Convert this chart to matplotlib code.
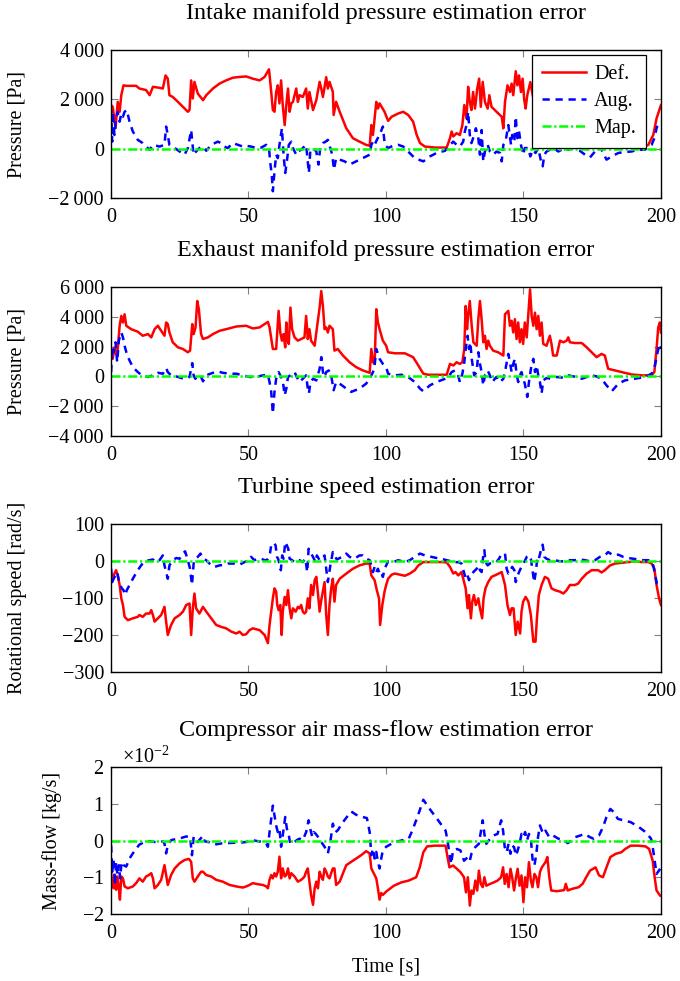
import numpy as np
import matplotlib
matplotlib.use('Agg')
import matplotlib.pyplot as plt
from matplotlib.ticker import FuncFormatter, ScalarFormatter, MultipleLocator

plt.rcParams['font.family'] = ['Liberation Serif', 'DejaVu Serif']
plt.rcParams['mathtext.fontset'] = 'custom'
plt.rcParams['mathtext.rm'] = 'Liberation Serif'
plt.rcParams['font.size'] = 14.5

# ---- Intake manifold pressure error [Pa] ----
im_def_t = [0.1, 0.7, 1.7, 2.5, 3.2, 3.8, 4.6, 5.6, 9.2, 10.4, 12.8, 14.1, 15.3, 17.7, 18.9, 19.9, 20.7,
            21.3, 22.5, 24.4, 26.2, 28.0, 28.6, 29.2, 29.8, 30.4, 31.6, 33.5, 34.7, 37.1, 39.5, 41.9,
            44.4, 46.8, 49.2, 51.6, 54.1, 55.9, 57.5, 58.3, 58.9, 59.5, 60.1, 60.7, 61.3, 61.9, 62.5,
            63.2, 63.8, 64.4, 65.0, 65.6, 66.2, 67.4, 68.0, 68.6, 69.8, 71.0, 71.6, 72.2, 73.5, 74.7,
            75.9, 76.5, 77.1, 78.3, 78.9, 79.5, 80.7, 81.0, 81.9, 83.2, 85.6, 88.0, 90.4, 92.8, 94.1,
            94.7, 95.3, 95.9, 96.5, 97.1, 97.7, 99.5, 100.8, 102.1, 104.5, 106.3, 108.1, 109.9, 111.2,
            112.4, 114.2, 117.8, 122.1, 123.3, 123.9, 124.5, 125.7, 126.9, 127.8, 128.5, 129.3, 129.9,
            130.5, 131.1, 131.7, 132.4, 133.2, 133.9, 134.5, 135.2, 136.0, 137.0, 137.6, 138.4, 140.2,
            142.1, 142.7, 143.3, 144.2, 145.1, 145.7, 146.3, 147.2, 147.8, 148.4, 149.1, 149.7, 150.3,
            150.8, 151.4, 152.5, 153.5, 154.5, 155.5, 156.5, 157.5, 158.5, 160.0, 165.0, 170.0, 175.0,
            178.0, 180.0, 185.0, 190.5, 194.2, 195.4, 197.2, 198.4, 199.6, 200.0]
im_def_v = [1770, 1700, 830, 1900, 1500, 2170, 2570, 2550, 2550, 2440, 2380, 2170, 2510, 2470, 2440, 2970,
            2840, 2170, 2100, 1900, 1700, 1500, 1570, 2770, 2040, 2710, 2240, 1970, 2170, 2440, 2640,
            2770, 2880, 2910, 2930, 2840, 2770, 2910, 3220, 2310, 1570, 1500, 2300, 2570, 1840, 2770,
            1770, 960, 1770, 2440, 1500, 1840, 1900, 2440, 1900, 2170, 2100, 2440, 1630, 2300, 1570,
            1970, 2710, 2440, 2100, 2900, 2440, 2710, 2310, 1370, 1900, 1500, 830, 430, 290, 160, 120,
            960, 560, 1230, 1900, 1630, 1840, 1500, 1130, 1300, 1430, 1500, 1370, 1100, 560, 230, 90,
            50, 50, 430, 700, 500, 630, 560, 960, 1770, 1230, 2510, 1900, 1570, 2300, 1630, 2440, 2840,
            1700, 2710, 1900, 1630, 2170, 1700, 1500, 1300, 830, 1900, 2570, 2300, 2640, 2170, 3140,
            2570, 2970, 2300, 2840, 1970, 1630, 2170, 2700, 2100, 2600, 1900, 2300, 1500, 1200, 1150,
            1200, 1100, 900, 1000, 500, 300, 50, 90, 160, 560, 1230, 1630, 1770]

im_aug_t = [0.1, 0.5, 0.7, 1.3, 1.9, 2.5, 3.2, 3.8, 4.4, 5.0, 5.8, 6.8, 8.0, 9.8, 11.6, 14.1, 15.3, 17.7,
            19.5, 20.1, 20.7, 21.3, 22.5, 25.0, 26.8, 28.0, 29.2, 29.6, 30.1, 31.0, 32.2, 33.5, 34.7,
            36.5, 38.9, 40.1, 41.3, 42.5, 44.4, 46.2, 48.0, 49.2, 51.0, 52.8, 54.7, 56.5, 57.5, 57.9,
            58.5, 58.9, 59.5, 60.1, 60.7, 61.3, 62.2, 62.8, 63.4, 64.0, 64.7, 65.6, 66.2, 67.4, 68.0,
            69.2, 69.8, 71.0, 71.6, 72.0, 72.5, 73.5, 74.7, 75.5, 76.1, 77.1, 78.1, 78.9, 79.8, 80.5,
            81.1, 81.9, 83.2, 85.0, 86.8, 89.2, 91.6, 94.1, 94.7, 95.3, 95.9, 96.7, 97.7, 98.9, 99.6,
            100.8, 102.7, 104.5, 106.3, 108.1, 110.5, 113.6, 116.0, 118.4, 121.5, 123.3, 124.5, 125.7,
            126.9, 128.1, 128.7, 129.3, 129.9, 130.5, 131.1, 132.1, 132.7, 133.6, 134.2, 134.8, 135.4,
            136.0, 137.0, 137.8, 139.0, 140.2, 141.5, 142.1, 142.7, 143.5, 144.5, 145.5, 145.9, 146.7,
            147.2, 147.8, 148.4, 149.1, 149.9, 150.5, 151.8, 152.5, 153.5, 154.4, 155.4, 156.4, 157.0,
            157.6, 158.4, 159.6, 160.8, 162.7, 164.5, 166.3, 168.2, 170.5, 172.4, 174.2, 176.0, 177.8,
            179.0, 180.2, 182.1, 184.5, 186.9, 189.3, 191.6, 194.2, 195.4, 196.6, 197.6, 198.4, 199.0,
            200.0]
im_aug_v = [1570, 290, 1500, 560, 1230, 1500, 1100, 1430, 1300, 1500, 1570, 1100, 700, 360, 230, -40, 160,
            90, 160, 900, 560, 160, 90, -110, -240, 30, 760, 290, -240, -110, 30, 90, -80, 160, 290,
            230, 90, 30, 230, 160, 90, 120, 90, 30, 50, 160, 30, -510, -1050, -1720, -910, -240, -380,
            160, 830, -240, -980, -510, 160, 290, 30, -240, -110, -40, 30, 160, -510, -980, -110, 30,
            -110, -640, 30, 230, 290, 360, 30, -240, -840, -380, -440, -510, -640, -510, -380, -240,
            160, 290, 160, 360, 560, 900, 160, 30, 130, 160, 90, -110, -380, -510, -310, -170, -80,
            160, 290, 160, 90, 290, 700, 960, 1500, 560, 230, 560, 830, 430, -240, 760, -510, -110,
            160, -110, -240, -110, -170, -510, 160, 290, 960, 160, 560, 290, 1300, 430, 700, 160, -240,
            30, 30, -310, -40, -170, 30, -510, -710, -240, -110, -40, 30, -110, 0, -40, 30, -80, -240,
            -350, -110, 90, -170, -440, -310, -170, -130, -110, -40, -40, 90, 160, 430, 830, 1030, 960]

# ---- Exhaust manifold pressure error [Pa] ----
em_def_t = [0.1, 0.7, 1.3, 1.9, 2.5, 3.2, 3.8, 4.4, 5.0, 5.6, 7.4, 9.8, 11.6, 13.5, 14.7, 15.9, 17.1,
            18.3, 19.5, 20.1, 20.7, 21.3, 22.5, 24.4, 26.2, 28.0, 28.8, 29.6, 30.1, 30.8, 31.4, 32.0,
            32.8, 33.5, 35.3, 37.1, 39.5, 41.9, 45.6, 49.2, 51.6, 54.1, 55.9, 57.1, 57.7, 58.9, 60.1,
            61.0, 61.6, 62.2, 62.8, 63.4, 63.8, 64.1, 64.7, 65.3, 65.9, 66.8, 68.0, 69.2, 70.4, 71.0,
            71.6, 72.2, 72.8, 74.1, 74.7, 75.9, 76.5, 77.1, 77.7, 78.3, 78.9, 79.5, 80.7, 81.3, 82.5,
            84.4, 86.8, 89.2, 91.6, 94.1, 94.7, 95.3, 95.9, 96.5, 97.1, 97.7, 98.9, 100.1, 100.8,
            103.3, 106.9, 109.9, 111.8, 113.6, 115.4, 122.1, 123.3, 124.5, 125.7, 126.9, 127.8, 128.5,
            129.0, 129.5, 129.9, 130.5, 131.2, 131.8, 133.0, 133.6, 134.2, 134.8, 135.4, 136.0, 136.6,
            137.2, 137.8, 139.0, 140.8, 142.7, 143.3, 144.5, 145.1, 145.7, 146.3, 146.9, 147.5, 148.1,
            148.7, 149.3, 149.9, 150.5, 151.2, 151.8, 152.4, 153.0, 153.6, 154.2, 154.8, 155.4, 156.0,
            156.6, 157.2, 158.4, 159.6, 160.2, 160.8, 162.1, 163.3, 164.5, 165.7, 166.3, 166.9, 168.7,
            171.2, 173.0, 174.8, 176.6, 178.4, 179.6, 180.8, 183.3, 185.7, 189.3, 193.0, 196.6, 197.6,
            198.4, 199.0, 199.6, 200.0]
em_def_v = [1840, 1180, 1950, 1510, 1840, 3400, 4060, 3620, 4170, 3400, 3170, 3000, 2730, 2840, 2620, 3170,
            3400, 3060, 2730, 3620, 3510, 2950, 2290, 1950, 1840, 1620, 1730, 3510, 2840, 3290, 5060,
            4510, 2840, 2510, 2620, 2840, 3060, 3170, 3350, 3400, 3220, 3290, 3510, 3660, 3290, 1840,
            1840, 4400, 2950, 2400, 2840, 1950, 3620, 2510, 2180, 4620, 3170, 2620, 2400, 2510, 2620,
            4060, 2510, 3170, 2400, 2060, 2950, 4620, 5730, 4730, 3170, 3290, 2950, 3400, 3170, 1730,
            1840, 1400, 950, 620, 400, 240, 1840, 950, 840, 4510, 3620, 3170, 2400, 2060, 1620, 1550,
            1550, 1290, 730, 180, 110, 110, 840, 730, 950, 840, 950, 1840, 4730, 3170, 4060, 5060, 3400,
            2290, 2060, 3840, 5060, 3840, 2290, 2730, 1840, 2400, 2060, 1730, 1620, 1400, 4170, 4400,
            3400, 3730, 2950, 3840, 2510, 3620, 2290, 3170, 2180, 3620, 2620, 4280, 5840, 4060, 3400,
            4280, 3170, 4060, 2730, 3620, 2180, 2060, 2730, 2180, 1400, 1400, 2400, 2290, 2400, 2620,
            2290, 2240, 2240, 1950, 1620, 1290, 1510, 1400, 510, 400, 290, 130, 70, 70, 290, 1840,
            3290, 3620, 2950]

em_aug_t = [0.1, 0.5, 1.0, 1.7, 2.3, 2.9, 3.8, 4.4, 5.0, 5.8, 6.8, 8.0, 9.8, 11.6, 13.5, 15.3, 17.1,
            18.9, 20.1, 20.7, 21.9, 23.8, 25.6, 27.4, 28.6, 29.6, 30.1, 30.7, 31.6, 32.8, 33.5, 34.7,
            37.1, 38.9, 40.7, 43.2, 45.6, 48.0, 50.4, 52.8, 55.3, 57.1, 57.7, 58.3, 58.9, 59.5, 60.1,
            61.0, 61.6, 62.5, 63.2, 63.8, 64.4, 65.6, 66.8, 67.6, 68.6, 69.8, 71.0, 71.6, 72.0, 72.6,
            73.5, 74.7, 75.9, 76.5, 77.1, 77.7, 78.3, 79.2, 80.1, 81.0, 81.9, 83.2, 85.6, 87.4, 90.4,
            92.8, 94.1, 94.7, 95.3, 95.9, 96.5, 97.1, 97.7, 98.9, 100.1, 100.8, 103.3, 105.7, 108.1,
            110.5, 112.4, 113.6, 116.0, 118.4, 121.5, 122.7, 123.9, 125.1, 126.1, 126.9, 127.8, 128.5,
            129.0, 129.7, 130.2, 130.7, 131.2, 132.1, 133.0, 133.6, 134.2, 134.8, 135.4, 136.0, 137.0,
            137.8, 138.7, 139.6, 140.2, 141.5, 142.7, 143.5, 144.5, 145.1, 145.7, 146.3, 146.9, 147.5,
            148.1, 148.7, 149.3, 149.9, 150.5, 151.4, 152.0, 153.0, 153.6, 154.2, 154.8, 155.4, 156.0,
            156.6, 157.2, 158.4, 160.2, 162.1, 164.5, 166.3, 168.1, 169.9, 171.2, 173.0, 174.8, 176.6,
            178.4, 180.2, 182.1, 184.5, 186.9, 190.5, 194.2, 196.6, 197.8, 198.8, 199.4, 200.0]
em_aug_v = [290, 1950, 1620, 2290, 950, 2400, 2950, 2620, 2060, 1510, 1070, 620, 290, 20, -40, 70, 240,
            180, 560, 290, 70, 0, -110, -160, -40, 890, 70, -160, 70, -40, -330, 70, 240, 330, 240, 180,
            180, 70, -40, -40, 70, 110, -380, -1040, -2490, -1040, -160, 290, 70, -270, -1270, -820,
            -40, 110, 290, -40, -380, -160, 70, -820, -1150, -380, -160, -270, 510, 1290, 290, -40,
            290, 400, 70, -930, -380, -490, -820, -1040, -820, -490, -160, 70, 290, 730, 1840, 1510,
            1180, 840, 620, 180, 70, 110, -40, -380, -820, -1000, -600, -380, -160, -40, 290, 400, 180,
            -380, 180, 950, 1840, 2730, 1840, 2290, 1180, 70, 290, 1620, 840, 290, -600, 70, 400, 70,
            -380, -160, -40, -380, -160, 510, 1510, 950, 290, 840, 1180, 180, -380, 70, 290, -160, -490,
            -1380, -380, 840, 1180, 290, 730, 70, -380, -1150, -270, -110, -160, -40, -90, 70, 0, -40,
            -160, -40, 70, 0, -160, -600, -1000, -490, -270, -160, -40, 180, 730, 1620, 2180, 1840]

# ---- Turbine speed error [rad/s] ----
ts_def_t = [0.1, 0.7, 1.3, 1.9, 2.5, 3.2, 3.8, 4.4, 5.0, 6.2, 8.0, 9.8, 10.4, 11.6, 12.8, 14.1, 14.7,
            15.3, 15.9, 17.1, 18.3, 19.5, 20.1, 20.7, 21.9, 23.2, 25.0, 26.2, 27.4, 28.6, 29.2, 29.8,
            30.4, 31.0, 32.2, 33.5, 34.7, 36.5, 38.3, 40.1, 41.9, 43.8, 45.6, 46.8, 48.0, 49.2, 50.4,
            51.6, 54.1, 55.9, 57.1, 57.7, 58.3, 58.9, 59.5, 60.1, 60.5, 61.0, 61.6, 62.1, 62.5, 63.2,
            63.8, 64.4, 65.0, 65.6, 66.2, 67.2, 68.0, 68.6, 69.2, 69.8, 70.4, 71.0, 71.6, 72.2, 72.8,
            73.5, 74.1, 74.7, 75.3, 75.9, 76.5, 77.7, 78.3, 78.9, 79.5, 80.1, 80.7, 81.3, 81.9, 83.2,
            85.6, 88.0, 90.4, 92.8, 94.1, 94.7, 95.9, 96.7, 97.5, 97.9, 98.7, 99.5, 100.1, 100.8, 102.1,
            103.3, 105.1, 106.9, 108.7, 110.5, 111.8, 113.6, 116.6, 120.2, 122.1, 123.3, 124.5, 125.3,
            126.3, 127.5, 128.4, 129.0, 129.7, 130.2, 130.9, 131.4, 132.0, 132.7, 133.6, 134.2, 135.0,
            135.5, 136.2, 137.2, 138.4, 140.2, 142.1, 143.3, 144.2, 145.1, 145.7, 146.4, 147.2, 147.9,
            148.8, 149.3, 149.9, 150.8, 151.8, 152.7, 153.6, 154.4, 154.9, 155.6, 156.6, 157.8, 159.0,
            160.2, 161.5, 163.3, 164.5, 165.7, 166.9, 168.7, 169.9, 171.2, 173.0, 174.8, 177.2, 178.4,
            179.6, 181.5, 183.3, 185.7, 188.1, 190.5, 193.0, 195.4, 196.6, 197.6, 198.4, 199.3, 200.0]
ts_def_v = [-39, -52, -34, -25, -39, -65, -101, -119, -151, -160, -155, -151, -146, -151, -142, -142, -133,
            -146, -164, -155, -146, -124, -164, -200, -173, -155, -146, -137, -119, -115, -200, -128,
            -88, -128, -142, -124, -137, -155, -173, -178, -182, -191, -196, -191, -200, -198, -187,
            -182, -187, -200, -222, -173, -137, -101, -74, -83, -119, -133, -119, -200, -137, -97,
            -119, -79, -128, -155, -128, -137, -124, -128, -119, -137, -142, -137, -101, -128, -65, -92,
            -52, -43, -88, -137, -106, -57, -146, -200, -119, -74, -48, -110, -65, -48, -34, -21, -12,
            -7, -7, -39, -52, -79, -101, -173, -119, -83, -65, -48, -37, -34, -37, -40, -34, -25, -12,
            -3, -3, -3, -4, -16, -34, -30, -39, -30, -57, -74, -128, -92, -155, -110, -92, -119, -101,
            -128, -155, -101, -74, -57, -43, -37, -30, -65, -119, -146, -128, -128, -200, -164, -196,
            -137, -110, -97, -110, -146, -218, -218, -155, -92, -65, -43, -48, -74, -79, -83, -88, -79,
            -65, -65, -61, -48, -34, -25, -25, -31, -25, -12, -7, -5, -3, -1, -3, -3, -7, -21, -65,
            -101, -119]

ts_aug_t = [0.1, 0.5, 1.0, 1.7, 2.3, 2.9, 3.4, 4.0, 4.6, 5.2, 5.8, 6.8, 8.0, 9.8, 11.0, 12.2, 14.1, 15.3,
            16.5, 17.7, 18.9, 19.5, 20.1, 20.7, 21.3, 22.5, 23.8, 25.0, 26.2, 27.0, 28.0, 28.8, 29.5,
            30.1, 30.8, 31.6, 32.6, 33.5, 34.7, 36.5, 37.7, 39.5, 41.3, 42.5, 45.0, 46.8, 48.6, 50.4,
            51.0, 52.2, 53.5, 54.7, 55.9, 56.7, 57.7, 58.3, 59.3, 59.9, 60.4, 60.8, 61.3, 61.8, 62.3,
            62.8, 63.4, 64.0, 64.5, 65.0, 65.9, 66.8, 67.6, 68.6, 69.8, 70.7, 71.4, 71.9, 72.5, 73.5,
            74.4, 74.9, 75.9, 76.8, 77.7, 78.3, 78.9, 79.8, 80.7, 81.5, 82.2, 83.2, 84.4, 85.6, 86.8,
            88.6, 90.4, 91.6, 92.8, 94.1, 94.7, 95.3, 95.9, 96.5, 97.1, 97.7, 98.3, 98.9, 99.6, 100.8,
            102.7, 104.5, 106.9, 108.7, 110.5, 112.4, 114.2, 116.6, 118.4, 120.2, 122.1, 123.9, 125.1,
            126.3, 127.5, 128.5, 129.1, 129.7, 130.2, 130.9, 131.8, 133.0, 133.6, 134.2, 134.8, 135.4,
            135.8, 136.2, 137.0, 137.8, 139.0, 140.2, 141.1, 141.8, 142.7, 143.3, 143.9, 144.5, 145.1,
            145.9, 146.7, 147.2, 147.9, 148.7, 149.3, 150.3, 151.2, 152.1, 152.7, 153.2, 153.9, 154.5,
            155.1, 155.6, 156.2, 157.0, 157.6, 158.4, 159.6, 161.5, 163.3, 165.1, 166.9, 168.7, 170.5,
            172.4, 174.2, 176.0, 177.8, 179.6, 180.8, 182.7, 184.5, 186.3, 188.1, 189.9, 191.8, 193.6,
            195.4, 196.6, 197.2, 197.8, 198.5, 199.3, 200.0]
ts_aug_v = [-21, -57, -48, -39, -30, -52, -65, -74, -79, -92, -79, -65, -48, -25, -12, -1, 2, 4, -3, 2, 15,
            -12, -30, -48, -12, 2, 8, 6, 20, 26, 2, -21, -65, -7, 6, 11, 20, 6, 2, -12, -16, -12, -10,
            -7, -7, -10, -3, 2, 11, 2, 6, 6, 2, 2, 13, 42, 49, 42, 11, 6, -7, -25, 15, 6, 51, 42, 33, 6,
            2, -3, 2, 2, -3, 6, -30, 33, 24, 11, -3, 15, 2, 6, 15, -21, -57, -12, 24, 11, 4, 8, 11, 20,
            11, 6, 15, 15, 6, 2, -12, -30, -16, -30, -21, -34, -30, -43, -20, -1, -3, 2, -3, 2, 11, 20,
            15, 11, 8, 6, 2, -1, -4, -3, -7, -34, -48, -39, -52, -39, -30, -21, -12, -25, -30, 15, 29,
            -3, -12, -7, -3, -3, 6, 15, 15, 20, -21, -34, -30, -16, -25, -57, -39, -25, -16, -3, 11, 15,
            6, -21, -57, -30, 11, 6, 24, 44, 11, 6, 2, 2, -1, -1, 2, 2, 4, 2, -1, 2, 11, 15, 24, 15, 17,
            11, 8, 6, 4, 2, 2, -1, -12, -34, -61, -65, -61]

# ---- Compressor air mass-flow error [kg/s], read in units of 1e-2 ----
mf_def_t = [0.1, 0.5, 1.0, 1.5, 1.9, 2.4, 2.9, 3.3, 3.8, 4.4, 5.0, 6.2, 8.0, 9.2, 10.4, 11.6, 12.8, 13.8,
            14.7, 15.3, 15.9, 17.1, 18.3, 19.5, 20.1, 20.7, 21.9, 23.2, 25.0, 26.8, 28.4, 29.2, 29.8,
            30.4, 31.6, 32.8, 33.5, 34.7, 36.5, 38.3, 40.7, 43.2, 45.6, 48.0, 49.2, 50.4, 51.6, 53.5,
            55.3, 56.5, 57.1, 57.7, 58.3, 58.9, 59.5, 60.1, 60.7, 61.3, 61.9, 62.5, 63.2, 63.8, 64.4,
            65.0, 65.6, 66.8, 68.0, 69.2, 69.8, 70.4, 71.0, 71.6, 72.2, 72.8, 73.5, 74.1, 74.7, 75.3,
            75.9, 76.5, 77.1, 77.7, 78.3, 78.9, 79.5, 80.1, 80.7, 81.3, 81.9, 83.2, 84.4, 85.6, 87.4,
            89.2, 91.0, 92.8, 94.1, 94.7, 95.3, 95.9, 96.5, 97.1, 97.7, 98.3, 98.9, 100.1, 102.9, 105.6,
            108.3, 111.0, 112.3, 113.6, 115.0, 117.7, 121.7, 122.4, 123.1, 124.4, 125.8, 127.1, 128.4,
            129.1, 129.8, 130.5, 131.1, 131.8, 132.5, 133.2, 133.8, 134.5, 135.2, 135.8, 136.5, 137.9,
            139.2, 140.6, 141.9, 142.6, 143.2, 143.9, 144.6, 145.3, 145.9, 146.6, 147.3, 147.9, 148.6,
            149.3, 150.0, 150.6, 151.3, 152.0, 152.7, 153.3, 154.0, 154.7, 155.3, 156.0, 156.7, 158.0,
            158.7, 159.4, 160.1, 162.1, 164.8, 165.4, 166.1, 167.5, 170.1, 171.5, 172.8, 174.2, 176.2,
            177.5, 178.9, 180.2, 181.6, 183.6, 185.6, 187.0, 189.0, 191.7, 194.4, 195.7, 197.0, 197.7,
            198.4, 199.7]
mf_def_v = [-0.85, -1.21, -1.30, -0.94, -1.34, -0.98, -1.30, -1.61, -0.98, -1.03, -1.25, -1.30, -1.25,
            -1.16, -1.03, -1.12, -0.98, -0.94, -0.89, -1.03, -1.30, -1.21, -1.07, -0.67, -0.94, -1.21,
            -0.94, -0.76, -0.62, -0.53, -0.50, -0.58, -1.03, -1.12, -0.98, -0.85, -0.85, -0.94, -0.98,
            -1.07, -1.12, -1.21, -1.25, -1.28, -1.25, -1.21, -1.16, -1.19, -1.21, -1.25, -1.30, -1.07,
            -0.94, -1.03, -0.89, -0.98, -0.85, -0.44, -1.03, -0.76, -0.98, -0.94, -0.76, -1.03, -0.89,
            -0.98, -1.12, -1.07, -1.03, -0.98, -0.85, -0.76, -1.12, -1.48, -1.75, -1.30, -1.12, -1.30,
            -0.85, -0.98, -1.07, -0.76, -0.85, -0.98, -1.03, -0.89, -0.76, -0.76, -1.21, -1.12, -0.89,
            -0.67, -0.58, -0.49, -0.40, -0.29, -0.35, -0.76, -0.85, -0.94, -1.03, -1.30, -1.61, -1.43,
            -1.48, -1.39, -1.23, -1.14, -1.09, -1.00, -0.73, -0.32, -0.16, -0.14, -0.14, -0.45, -0.73,
            -0.68, -0.77, -0.86, -1.00, -1.41, -1.00, -1.77, -1.36, -1.45, -1.09, -1.36, -0.82, -1.18,
            -1.27, -1.00, -1.23, -1.18, -1.14, -1.09, -1.00, -0.73, -1.18, -0.91, -1.27, -0.77, -1.00,
            -1.36, -1.00, -0.77, -1.23, -0.95, -1.68, -1.00, -1.27, -0.59, -1.09, -1.27, -0.91, -1.00,
            -1.27, -0.86, -0.73, -0.59, -0.45, -1.00, -1.36, -1.38, -1.35, -1.18, -1.36, -1.32, -1.27,
            -1.18, -1.00, -0.82, -0.73, -0.95, -1.00, -0.73, -0.45, -0.36, -0.32, -0.23, -0.14, -0.14,
            -0.16, -0.23, -0.55, -1.00, -1.36, -1.50]

mf_aug_t = [0.1, 0.5, 1.0, 1.5, 1.9, 2.4, 2.9, 3.4, 3.9, 4.6, 5.6, 6.8, 8.0, 9.2, 10.4, 12.2, 14.1, 15.9,
            17.7, 18.9, 19.5, 20.1, 20.7, 21.9, 23.8, 25.6, 27.4, 28.8, 29.5, 30.1, 30.8, 31.6, 32.5,
            33.5, 34.1, 35.9, 37.7, 40.1, 42.5, 45.0, 46.8, 49.2, 51.6, 53.5, 55.3, 56.5, 57.1, 57.7,
            58.3, 58.9, 59.5, 60.1, 60.7, 61.3, 61.9, 62.5, 63.4, 64.0, 64.6, 65.2, 66.2, 66.8, 67.6,
            68.6, 69.8, 71.0, 71.9, 72.5, 73.2, 73.7, 74.4, 75.3, 76.5, 77.7, 78.9, 79.8, 80.7, 81.7,
            82.5, 84.4, 86.2, 87.4, 89.2, 91.6, 93.1, 94.1, 94.7, 95.3, 95.9, 96.5, 97.1, 97.7, 98.3,
            98.9, 100.1, 102.9, 105.6, 108.3, 109.6, 111.0, 112.3, 113.6, 116.3, 119.0, 121.7, 122.4,
            123.1, 123.7, 124.4, 125.8, 127.1, 128.4, 129.8, 130.5, 131.1, 132.5, 133.8, 135.2, 135.8,
            136.5, 137.9, 139.2, 140.6, 141.9, 142.6, 143.2, 143.9, 144.6, 145.3, 145.9, 146.6, 147.3,
            147.9, 148.6, 149.3, 150.0, 150.6, 151.3, 152.0, 152.7, 153.3, 154.0, 154.7, 155.3, 156.0,
            156.7, 157.4, 158.0, 158.7, 159.4, 160.7, 162.7, 164.8, 166.1, 167.5, 168.8, 170.8, 172.2,
            174.2, 175.5, 177.5, 178.9, 180.2, 181.6, 182.9, 184.3, 186.3, 189.0, 191.7, 194.4, 196.4,
            197.0, 197.7, 198.4, 199.7]
mf_aug_v = [-0.13, -0.85, -0.53, -1.21, -0.58, -0.94, -0.67, -1.03, -0.58, -0.67, -0.71, -0.49, -0.35,
            -0.22, -0.11, -0.04, -0.02, -0.04, -0.05, -0.02, -0.08, -0.35, -0.13, 0.01, 0.04, 0.07, 0.11,
            0.10, -0.40, 0.10, 0.05, -0.04, 0.04, 0.13, -0.02, -0.05, -0.11, -0.08, -0.07, -0.06, -0.06,
            -0.04, 0.01, -0.02, -0.04, -0.08, -0.17, 0.23, 0.59, 0.95, 0.68, 0.41, 0.23, 0.32, -0.17,
            0.14, 0.64, 0.32, 0.19, -0.08, -0.08, -0.04, 0.01, 0.05, 0.01, 0.23, 0.55, 0.32, 0.10, 0.23,
            0.19, 0.10, -0.04, -0.17, -0.35, -0.04, 0.46, 0.23, 0.28, 0.50, 0.68, 0.79, 0.70, 0.64, 0.61,
            0.23, -0.40, -0.22, -0.49, -0.31, -0.58, -0.76, -0.49, -0.26, -0.17, -0.05, 0.00, 0.05, 0.27,
            0.55, 0.82, 1.11, 0.82, 0.55, 0.27, 0.00, -0.36, -0.64, -0.27, -0.23, -0.27, -0.55, -0.45,
            -0.55, -0.36, -0.18, -0.09, 0.55, 0.18, -0.09, 0.05, 0.14, 0.18, 0.55, 0.27, -0.18, -0.32,
            -0.09, -0.36, -0.14, -0.18, -0.41, -0.27, -0.09, 0.18, 0.09, 0.23, 0.00, 0.18, 0.05, -0.50,
            -0.68, -0.36, 0.09, 0.41, 0.27, 0.18, 0.27, 0.18, 0.09, 0.14, 0.05, 0.00, -0.07, 0.00, 0.09,
            0.14, 0.18, 0.09, 0.05, 0.14, 0.36, 0.64, 0.86, 0.77, 0.59, 0.55, 0.50, 0.38, 0.23, 0.05,
            -0.18, -0.55, -0.91, -0.77]

# the mapped model sits on zero the whole run
map_t = [0, 200]
map_v = [0, 0]

titles = ['Intake manifold pressure estimation error',
          'Exhaust manifold pressure estimation error',
          'Turbine speed estimation error',
          'Compressor air mass-flow estimation error']
ylabels = ['Pressure [Pa]', 'Pressure [Pa]', 'Rotational speed [rad/s]', 'Mass-flow [kg/s]']
yticks = [[-2000, 0, 2000, 4000],
          [-4000, -2000, 0, 2000, 4000, 6000],
          [-300, -200, -100, 0, 100],
          [-2e-2, -1e-2, 0, 1e-2, 2e-2]]

series = [(im_def_t, im_def_v, im_aug_t, im_aug_v, 1),
          (em_def_t, em_def_v, em_aug_t, em_aug_v, 1),
          (ts_def_t, ts_def_v, ts_aug_t, ts_aug_v, 1),
          (mf_def_t, mf_def_v, mf_aug_t, mf_aug_v, 1e-2)]

# axes boxes in figure fractions (left, bottom, width, height)
boxes = [(0.163, 0.798, 0.809, 0.151),
         (0.163, 0.5556, 0.809, 0.1518),
         (0.163, 0.315, 0.809, 0.1509),
         (0.163, 0.0683, 0.809, 0.1498)]
ylab_x = [-0.153, -0.153, -0.153, -0.088]


def thousands(x, pos):
    s = '{:,.0f}'.format(abs(x)).replace(',', '\u2009')
    return ('\u2212' + s) if x < 0 else s


fig = plt.figure(figsize=(6.8, 9.81), dpi=100)

for i in range(4):
    dt, dv, at, av, scale = series[i]
    ax = fig.add_axes(boxes[i])
    ax.plot(dt, np.array(dv) * scale, color='#ff0000', lw=1.8, label='Def.')
    ax.plot(at, np.array(av) * scale, color='#0000ff', lw=1.8, linestyle=(0, (2.9, 2.3)), label='Aug.')
    ax.plot(map_t, map_v, color='#00ff00', lw=1.8, linestyle=(0, (3.6, 1.1, 0.9, 1.1)), label='Map.')

    ax.set_xlim(0, 200)
    ax.set_ylim(yticks[i][0], yticks[i][-1])
    ax.set_yticks(yticks[i])
    ax.xaxis.set_major_locator(MultipleLocator(50))
    ax.set_title(titles[i], pad=22)
    ax.set_ylabel(ylabels[i])
    ax.yaxis.set_label_coords(ylab_x[i], 0.5)
    ax.tick_params(direction='in', top=True, right=True, length=5, width=0.8,
                   color='0.5', labelsize=14.5, pad=5)
    ax.tick_params(axis='x', pad=7)
    for sp in ax.spines.values():
        sp.set_linewidth(1.0)

    if i < 2:
        ax.yaxis.set_major_formatter(FuncFormatter(thousands))
    if i == 3:
        fmt = ScalarFormatter(useMathText=True)
        fmt.set_powerlimits((0, 0))
        ax.yaxis.set_major_formatter(fmt)
        ax.yaxis.get_offset_text().set_fontsize(14.5)
        ax.yaxis.get_offset_text().set_x(0.02)
        ax.set_xlabel('Time [s]', labelpad=11)
    if i == 0:
        leg = ax.legend(loc='upper right', bbox_to_anchor=(0.973, 0.966), borderaxespad=0,
                        fancybox=False, framealpha=1, edgecolor='black', handlelength=2.2,
                        handletextpad=0.4, labelspacing=0.38, borderpad=0.5)
        leg.get_frame().set_linewidth(0.9)

fig.savefig('out.png', dpi=100)
